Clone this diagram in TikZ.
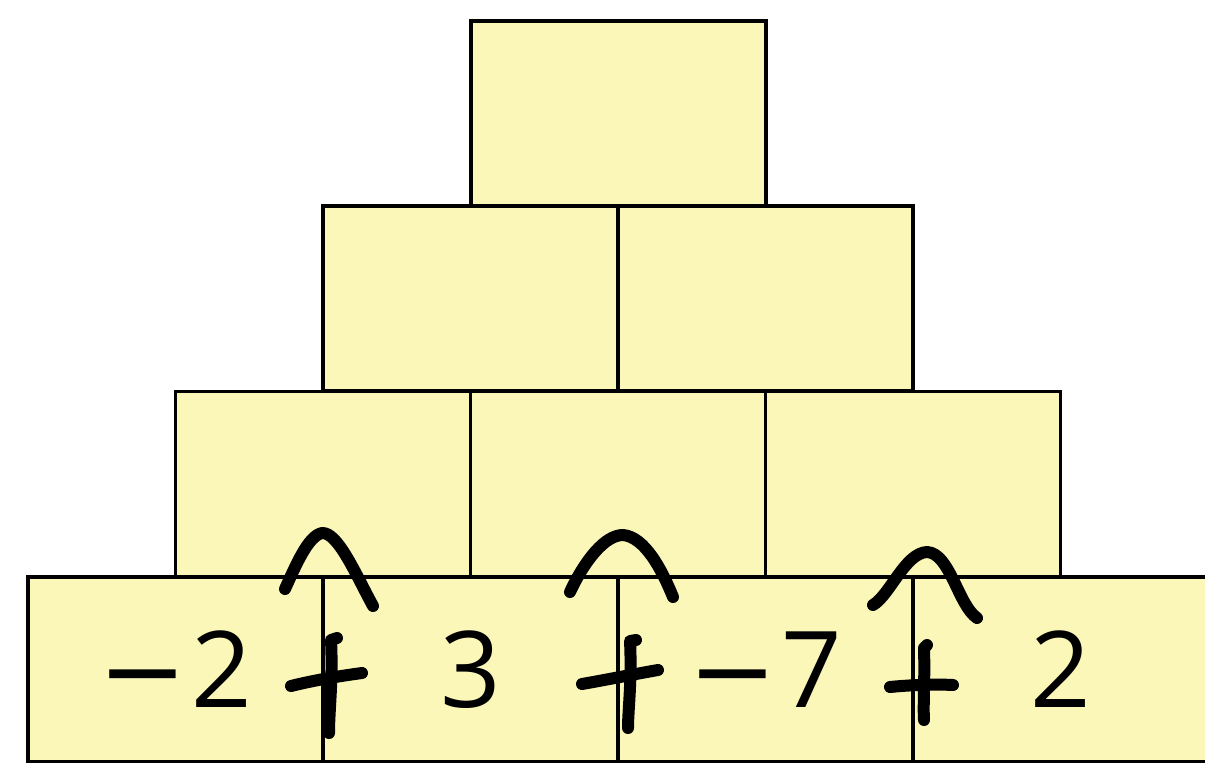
\documentclass[tikz,border=0pt]{standalone}
\usepackage{fontspec}
\setmainfont{Open Sans}
\newfontfamily\minusfont{DejaVu Sans}
\newcommand{\mns}{{\minusfont −}\hspace{4pt}}
\definecolor{boxfill}{RGB}{250,247,185}
\tikzset{
  brick/.style={draw=black, fill=boxfill, line width=3.5pt, minimum width=295pt, minimum height=185pt, inner sep=0pt, outer sep=0pt, font=\fontsize{106}{106}\selectfont},
  ink/.style={line width=12pt, line cap=round, line join=round, black}
}
\begin{document}
\begin{tikzpicture}[x=1pt,y=-1pt]
\useasboundingbox (0,0) rectangle (1205,763);
\begin{scope}
\clip (0,0) rectangle (1205,763);
% top
\node[brick] (t) at (618.5,113.5) {};
% row 2
\node[brick] (r2a) at (470.5,298.5) {};
\node[brick] (r2b) at (765.5,298.5) {};
% row 3
\node[brick] (r3a) at (323,484) {};
\node[brick] (r3b) at (618,484) {};
\node[brick] (r3c) at (913,484) {};
% bottom
\node[brick] (b1) at (175.5,669.5) {\mns 2};
\node[brick] (b2) at (470.5,669.5) {3};
\node[brick] (b3) at (765.5,669.5) {\mns 7};
\node[brick] (b4) at (1060.5,669.5) {2};
\end{scope}
% handwritten marks
% mark 1
\draw[ink] (285,589) .. controls (296,565) and (308,536) .. (322,533) .. controls (338,532) and (356,575) .. (373,606);
\draw[ink] (291,686) .. controls (315,680) and (340,676) .. (362,673);
\draw[ink] (337,638) -- (331,640) .. controls (333,680) and (329,710) .. (329,733);
% mark 2
\draw[ink] (570,592) .. controls (585,560) and (605,535) .. (623,535) .. controls (645,537) and (662,570) .. (673,597);
\draw[ink] (582,684) .. controls (605,680) and (635,674) .. (658,670);
\draw[ink] (636,640) -- (630,641) .. controls (632,680) and (628,710) .. (628,728);
% mark 3
\draw[ink] (873,605) .. controls (890,595) and (905,553) .. (927,552) .. controls (950,553) and (958,605) .. (977,618);
\draw[ink] (890,687) .. controls (910,685) and (935,684) .. (953,685);
\draw[ink] (927,645) -- (924,648) .. controls (925,680) and (923,705) .. (924,720);
\end{tikzpicture}
\end{document}
